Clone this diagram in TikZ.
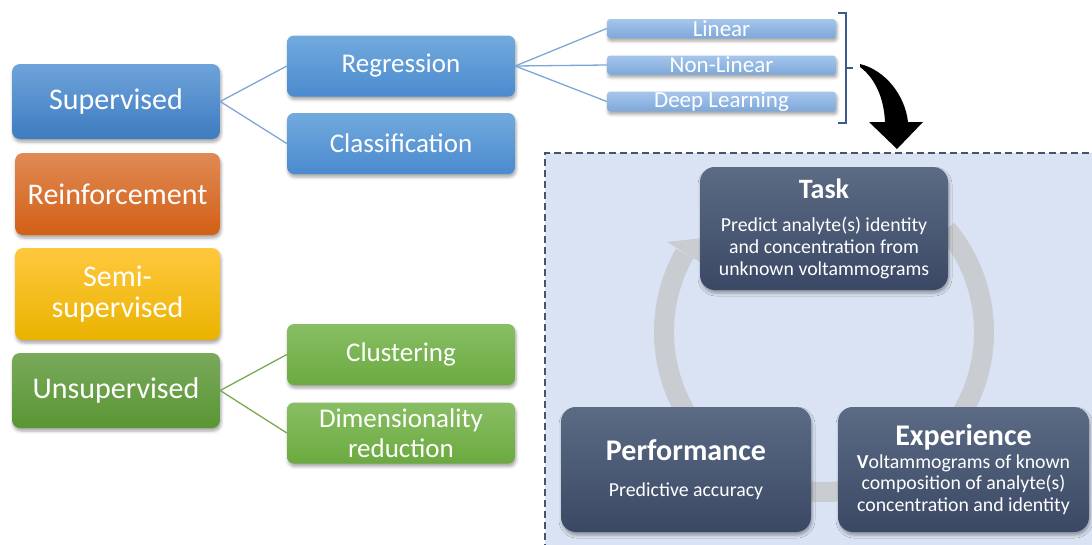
\documentclass[tikz,border=0pt]{standalone}
\usepackage{fontspec}
\setmainfont{Carlito}
\usetikzlibrary{shadows.blur}

\definecolor{supT}{HTML}{6EA3DA}
\definecolor{supB}{HTML}{3D7CC0}
\definecolor{regT}{HTML}{72AADE}
\definecolor{regB}{HTML}{4A8ACE}
\definecolor{linT}{HTML}{A6C6EB}
\definecolor{linB}{HTML}{7DA8DA}
\definecolor{reiT}{HTML}{E08A55}
\definecolor{reiB}{HTML}{D35F15}
\definecolor{semT}{HTML}{FFC83E}
\definecolor{semB}{HTML}{EAB300}
\definecolor{unsT}{HTML}{79A95B}
\definecolor{unsB}{HTML}{5A9634}
\definecolor{cluT}{HTML}{88BE64}
\definecolor{cluB}{HTML}{6BAA40}
\definecolor{cycT}{HTML}{5C6B84}
\definecolor{cycB}{HTML}{3A4865}
\definecolor{panel}{HTML}{DAE3F3}
\definecolor{panelEdge}{HTML}{44546A}
\definecolor{ring}{HTML}{C9CCD1}
\definecolor{blueLink}{HTML}{7EA6D6}
\definecolor{greenLink}{HTML}{7AAA50}
\definecolor{brace}{HTML}{3A5A8C}

\begin{document}
\begin{tikzpicture}[x=1pt,y=-1pt,
  softshadow/.style={blur shadow={shadow xshift=1pt, shadow yshift=-3pt,
      shadow blur radius=3pt, shadow opacity=35}},
  catbox/.style={rounded corners=8pt, inner sep=0pt, align=center, text=white,
      minimum width=206pt, softshadow,
      font=\fontsize{30}{31}\selectfont},
  subbox/.style={rounded corners=7pt, inner sep=0pt, align=center, text=white,
      minimum width=228pt, minimum height=61pt, softshadow,
      top color=regT, bottom color=regB,
      font=\fontsize{27}{30}\selectfont},
  leafbox/.style={rounded corners=3pt, inner sep=0pt, text=white,
      minimum width=229pt, minimum height=19pt, softshadow,
      top color=linT, bottom color=linB,
      font=\fontsize{23}{23}\selectfont},
  cycbox/.style={rounded corners=15pt, inner sep=0pt, align=center, text=white,
      top color=cycT, bottom color=cycB, softshadow,
      font=\fontsize{19.8}{21.7}\selectfont},
  link/.style={line width=1.3pt},
]
\useasboundingbox (0,0) rectangle (1092,544);

% ---- right panel: learning cycle ----
\fill[panel] (545,153) rectangle (1100,560);
\draw[panelEdge, line width=1.2pt, dash pattern=on 7pt off 4pt]
  (1100,153) -- (545,153) -- (545,560);

% circular arrow behind the three boxes
\draw[ring, line width=20pt] (824,332) ++(-150.6:160)
  arc[start angle=-150.6, end angle=-400, radius=160];
\fill[ring] (667,242) -- (712,237) -- (703,264) -- cycle;

\node[cycbox, minimum width=248pt, minimum height=123pt] (task) at (824,228.5)
  {{\fontsize{28}{30}\selectfont\bfseries Task}\\[12pt]
   Predict analyte(s) identity\\
   and concentration from\\ unknown voltammograms};
\node[cycbox, minimum width=250pt, minimum height=125pt] (perf) at (686,469.5)
  {{\fontsize{30}{32}\selectfont\bfseries Performance}\\[14pt]
   Predictive accuracy};
\node[cycbox, minimum width=251pt, minimum height=125pt] (exp) at (963.5,469.5)
  {{\fontsize{30}{32}\selectfont\bfseries Experience}\\[1pt]
   \textbf{V}oltammograms of known\\
   composition of analyte(s)\\ concentration and identity};

% ---- left: learning categories ----
\node[catbox, minimum width=208pt, minimum height=75pt, top color=supT, bottom color=supB]
  (sup) at (116,101.5) {Supervised};
\node[catbox, minimum width=205pt, minimum height=82pt, top color=reiT, bottom color=reiB]
  (rei) at (117.5,194) {Reinforcement};
\node[catbox, minimum width=205pt, minimum height=92pt, top color=semT, bottom color=semB]
  (semi) at (117.5,294) {Semi-\\supervised};
\node[catbox, minimum width=208pt, minimum height=75pt, top color=unsT, bottom color=unsB]
  (uns) at (116,390.5) {Unsupervised};

\node[subbox] (reg) at (401,66) {Regression};
\node[subbox] (cls) at (401,143.5) {Classification};
\node[subbox, top color=cluT, bottom color=cluB] (clu) at (401,354.5) {Clustering};
\node[subbox, top color=cluT, bottom color=cluB] (dim) at (401,433)
  {Dimensionality\\reduction};

\node[leafbox] (lin) at (721.5,28.5) {Linear};
\node[leafbox] (nonlin) at (721.5,65) {Non-Linear};
\node[leafbox] (deep) at (721.5,101.5) {Deep Learning};

% connectors
\draw[link, blueLink] (sup.east) -- (reg.west);
\draw[link, blueLink] (sup.east) -- (cls.west);
\draw[link, blueLink] (reg.east) -- (lin.west);
\draw[link, blueLink] (reg.east) -- (nonlin.west);
\draw[link, blueLink] (reg.east) -- (deep.west);
\draw[link, greenLink] (uns.east) -- (clu.west);
\draw[link, greenLink] (uns.east) -- (dim.west);

% bracket grouping the regression models
\draw[brace, line width=1.3pt] (838,13) -- (846,13) -- (846,123) -- (838,123);
\draw[brace, line width=1.3pt] (846,68) -- (853,68);

% bold arrow down into the cycle panel
\fill[black] (860,64) .. controls (885,70) and (905,95) .. (908,122)
  -- (923,122) -- (897,149) -- (869,122) -- (885,122)
  .. controls (884,98) and (875,78) .. (860,67) -- cycle;
\end{tikzpicture}
\end{document}
